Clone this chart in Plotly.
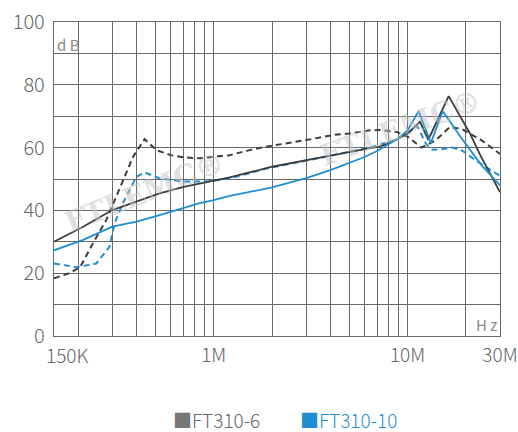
import plotly.graph_objects as go

# Frequency (MHz) / insertion loss (dB) for each filter
ft6_solid_f = [0.15, 0.212, 0.30, 0.40, 0.526, 0.70, 0.85, 1.21, 2.0, 3.5, 4.13, 6.4, 7.2, 8.7, 10.0,
               11.6, 12.8, 16.3, 19.0, 21.0, 24.0, 30.0]
ft6_solid_db = [30.0, 34.8, 40.1, 42.8, 45.4, 47.5, 48.6, 50.5, 53.9, 56.6, 57.6, 59.8, 60.3, 62.4, 64.5,
                68.2, 62.5, 76.4, 69.3, 64.5, 57.0, 45.8]

ft6_dash_f = [0.15, 0.18, 0.205, 0.238, 0.279, 0.334, 0.384, 0.44, 0.506, 0.60, 0.695, 0.847, 1.21, 1.53,
              1.87, 3.0, 4.13, 5.0, 6.4, 7.2, 8.8, 10.0, 11.8, 14.0, 16.5, 19.0, 24.0, 30.0]
ft6_dash_db = [18.4, 20.0, 22.0, 29.5, 36.9, 48.6, 57.1, 62.7, 59.2, 57.6, 56.9, 56.6, 57.6, 59.2,
               60.3, 62.4, 64.0, 64.5, 65.5, 65.6, 65.0, 63.5, 60.0, 62.4, 66.5, 66.0, 62.4, 58.0]

ft10_solid_f = [0.15, 0.212, 0.30, 0.40, 0.526, 0.847, 1.0, 1.21, 2.0, 3.0, 4.0, 5.0, 6.0, 7.0, 8.0, 9.0,
                10.0, 11.4, 13.2, 15.2, 19.0, 24.0, 30.0]
ft10_solid_db = [27.3, 30.6, 34.8, 36.4, 38.5, 42.3, 43.3, 44.6, 47.3, 50.3, 52.8, 55.0, 57.0, 59.0, 61.0, 63.0,
                 65.5, 71.6, 61.5, 71.6, 63.0, 54.5, 48.0]

ft10_dash_f = [0.15, 0.196, 0.248, 0.29, 0.308, 0.34, 0.399, 0.44, 0.526, 0.695, 0.917, 1.21, 1.87, 3.5,
               6.4, 8.7, 10.0, 11.2, 12.5, 13.5, 15.0, 17.0, 19.0, 23.0, 30.0]
ft10_dash_db = [23.1, 21.9, 23.1, 28.4, 35.9, 42.3, 50.7, 52.1, 50.2, 49.2, 49.2, 50.2, 53.3, 56.8,
                60.0, 62.5, 64.5, 67.0, 61.0, 59.3, 59.5, 60.0, 59.2, 55.5, 51.0]

series_names = ["FT310-6", "FT310-10"]
gray = "#3d3d3d"
blue = "#1f8fd2"

# Axis ticks: grid at every decade multiple, labels only at a few
x_grid = [0.15, 0.2, 0.3, 0.4, 0.5, 0.6, 0.7, 0.8, 0.9,
          1, 2, 3, 4, 5, 6, 7, 8, 9, 10, 20, 30]
x_labels = {1: "1M", 10: "10M", 30: "30M"}
x_start_label = "150K"   # drawn just right of the y labels at the left end
y_grid = list(range(0, 101, 10))
y_labels = {0: "0", 20: "20", 40: "40", 60: "60", 80: "80", 100: "100"}

font_family = "Noto Sans CJK SC, Noto Sans, sans-serif"
grid_color = "#686868"
label_font = dict(family=font_family, size=19, color="#666666", weight=300)

fig = go.Figure()
fig.add_trace(go.Scatter(x=ft6_dash_f, y=ft6_dash_db, mode="lines", showlegend=False,
                         line=dict(color=gray, width=2, dash="6px,4px")))
fig.add_trace(go.Scatter(x=ft10_dash_f, y=ft10_dash_db, mode="lines", showlegend=False,
                         line=dict(color=blue, width=2, dash="6px,4px")))
fig.add_trace(go.Scatter(x=ft6_solid_f, y=ft6_solid_db, mode="lines", showlegend=False,
                         line=dict(color=gray, width=1.8)))
fig.add_trace(go.Scatter(x=ft10_solid_f, y=ft10_solid_db, mode="lines", showlegend=False,
                         line=dict(color=blue, width=1.8)))

fig.update_xaxes(type="log", range=[-0.8239, 1.4771], automargin=False,
                 tickmode="array", tickvals=x_grid,
                 ticktext=[x_labels.get(v, "") for v in x_grid],
                 showgrid=True, gridcolor=grid_color, gridwidth=1.4,
                 showline=True, linecolor=grid_color, linewidth=1.4, mirror=True,
                 ticks="", zeroline=False, ticklabelstandoff=2, tickfont=label_font)
fig.update_yaxes(range=[0, 100], automargin=False, tickmode="array", tickvals=y_grid,
                 ticktext=[y_labels.get(v, "") for v in y_grid],
                 showgrid=True, gridcolor=grid_color, gridwidth=1.4,
                 showline=True, linecolor=grid_color, linewidth=1.4, mirror=True,
                 ticks="", zeroline=False, ticklabelstandoff=4,
                 tickfont=dict(family=font_family, size=20, color="#666666", weight=300))

watermark_font = dict(family="DejaVu Serif", size=29, color="rgba(195,195,195,0.5)", weight="bold")
annotations = [
    dict(text=x_start_label, xref="paper", yref="paper", x=0, y=0, xanchor="left", yanchor="middle",
         xshift=-10, yshift=-18, showarrow=False, font=label_font),
    dict(text="d B", xref="paper", yref="paper", x=0, y=0.928, xanchor="left", yanchor="middle",
         xshift=1, showarrow=False, font=dict(family=font_family, size=15, color="#8a8a8a")),
    dict(text="H z", xref="paper", yref="paper", x=1, y=0.038, xanchor="right", yanchor="middle",
         xshift=-1, showarrow=False, font=dict(family=font_family, size=15, color="#8a8a8a")),
    # faint brand watermark
    dict(text="FTLEMC®", xref="paper", yref="paper", x=0.204, y=0.459, textangle=-22,
         xanchor="center", yanchor="middle", showarrow=False, font=watermark_font),
    dict(text="FTLEMC®", xref="paper", yref="paper", x=0.776, y=0.662, textangle=-20,
         xanchor="center", yanchor="middle", showarrow=False, font=watermark_font),
    # legend entries
    dict(text="<span style='color:#777777'>■</span>" + series_names[0], xref="paper", yref="paper",
         x=0.262, y=-0.2675, xanchor="left", yanchor="middle", showarrow=False, font=label_font),
    dict(text="■" + series_names[1], xref="paper", yref="paper",
         x=0.546, y=-0.2675, xanchor="left", yanchor="middle", showarrow=False,
         font=dict(family=font_family, size=19, color=blue, weight=300)),
]

fig.update_layout(width=518, height=432, margin=dict(l=54, r=18, t=22, b=96),
                  paper_bgcolor="white", plot_bgcolor="white",
                  annotations=annotations, showlegend=False)

fig.write_html("out.html")
